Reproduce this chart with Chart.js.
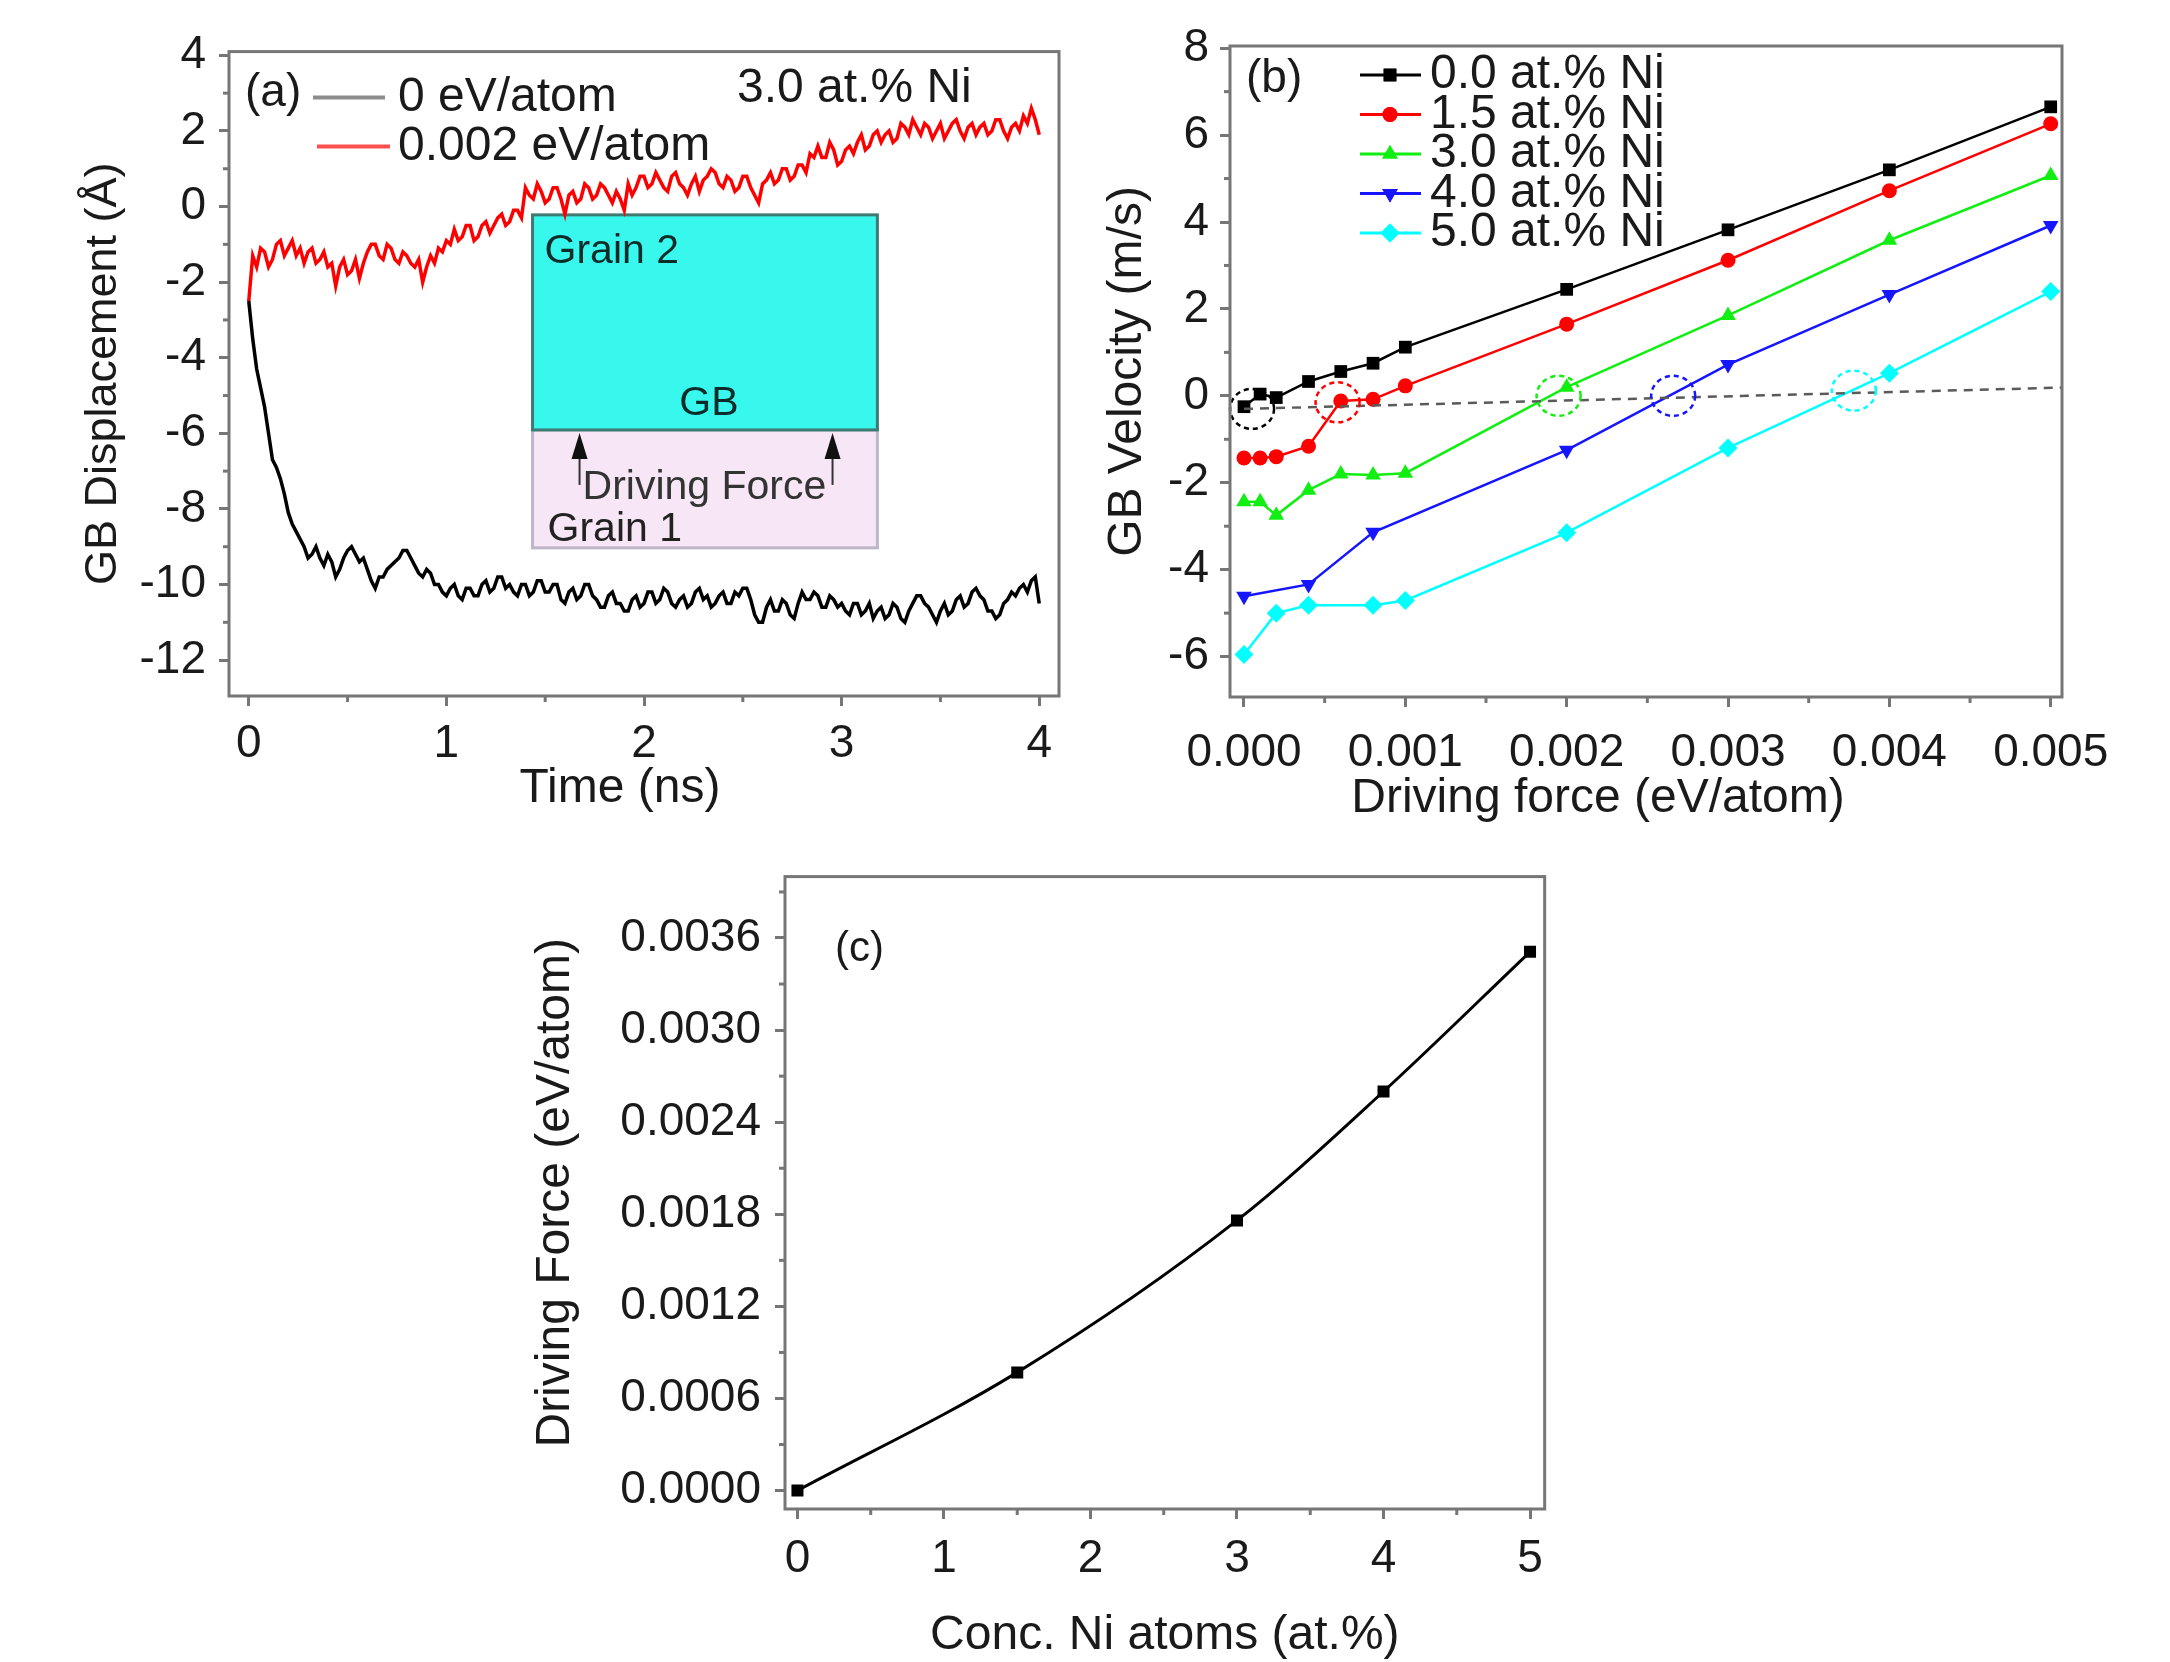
<!DOCTYPE html>
<html>
<head>
<meta charset="utf-8">
<title>GB displacement and velocity</title>
<script src="https://cdn.jsdelivr.net/npm/chart.js@4.4.1/dist/chart.umd.min.js"></script>
<style>
  html, body { margin: 0; padding: 0; background: #fff; overflow: hidden; }
  body { width: 2170px; height: 1662px; position: relative; }
  .panel { position: absolute; }
</style>
</head>
<body>
<div class="panel" style="left:40px;top:11px;width:1029px;height:809px"><canvas id="chartA"></canvas></div>
<div class="panel" style="left:1090px;top:6px;width:1042px;height:824px"><canvas id="chartB"></canvas></div>
<div class="panel" style="left:500px;top:835px;width:1056px;height:825px"><canvas id="chartC"></canvas></div>
<script>
// (a) GB displacement vs time, sampled every 0.02 ns from 0 to 4 ns
const timeStep = 0.02
const dispNoForce = [
  -2.5, -3.5, -4.3, -4.8, -5.3, -6.0, -6.7, -6.9, -7.2, -7.6,
  -8.1, -8.4, -8.6, -8.8, -9.0, -9.3, -9.2, -9.0, -9.3, -9.5,
  -9.2, -9.4, -9.8, -9.6, -9.3, -9.1, -9.0, -9.2, -9.4, -9.3,
  -9.6, -9.9, -10.1, -9.8, -9.8, -9.6, -9.5, -9.4, -9.3, -9.1,
  -9.1, -9.3, -9.5, -9.7, -9.8, -9.6, -9.7, -10.0, -10.0, -10.2,
  -10.3, -10.1, -10.0, -10.3, -10.4, -10.1, -10.1, -10.3, -10.3, -10.0,
  -9.9, -10.2, -10.1, -9.8, -9.8, -10.1, -10.0, -10.2, -10.3, -10.0,
  -10.0, -10.3, -10.2, -9.9, -9.9, -10.2, -10.2, -10.0, -10.0, -10.4,
  -10.5, -10.2, -10.1, -10.4, -10.3, -10.0, -10.0, -10.3, -10.4, -10.6,
  -10.6, -10.3, -10.2, -10.5, -10.5, -10.7, -10.7, -10.4, -10.3, -10.6,
  -10.5, -10.2, -10.2, -10.5, -10.4, -10.1, -10.2, -10.5, -10.6, -10.4,
  -10.3, -10.6, -10.5, -10.2, -10.1, -10.4, -10.3, -10.6, -10.5, -10.3,
  -10.2, -10.5, -10.5, -10.2, -10.3, -10.1, -10.1, -10.4, -10.8, -11.0,
  -11.0, -10.6, -10.4, -10.7, -10.7, -10.4, -10.5, -10.8, -10.9, -10.5,
  -10.2, -10.4, -10.4, -10.2, -10.3, -10.6, -10.6, -10.3, -10.4, -10.6,
  -10.5, -10.7, -10.8, -10.5, -10.5, -10.8, -10.7, -10.5, -10.9, -10.7,
  -10.6, -10.9, -10.8, -10.5, -10.6, -10.9, -11.0, -10.7, -10.5, -10.3,
  -10.3, -10.5, -10.6, -10.8, -11.0, -10.7, -10.5, -10.8, -10.7, -10.4,
  -10.3, -10.6, -10.5, -10.2, -10.1, -10.3, -10.4, -10.7, -10.7, -10.9,
  -10.8, -10.5, -10.4, -10.2, -10.3, -10.1, -10.0, -10.2, -9.9, -9.8,
  -10.5
]
const dispForce002 = [
  -2.5, -1.3, -1.6, -1.1, -1.2, -1.6, -1.4, -1.0, -0.9, -1.3,
  -1.1, -0.9, -1.3, -1.1, -1.5, -1.2, -1.1, -1.5, -1.4, -1.2,
  -1.6, -1.5, -2.1, -1.6, -1.4, -1.8, -1.7, -1.4, -1.9, -1.5,
  -1.2, -1.0, -1.0, -1.3, -1.4, -1.0, -1.1, -1.4, -1.5, -1.2,
  -1.3, -1.5, -1.6, -1.4, -2.0, -1.6, -1.3, -1.5, -1.1, -1.2,
  -0.9, -1.0, -0.6, -0.9, -0.8, -0.5, -0.5, -0.9, -0.8, -0.5,
  -0.4, -0.7, -0.5, -0.3, -0.2, -0.5, -0.4, -0.1, -0.1, -0.3,
  0.5, 0.3, 0.2, 0.6, 0.4, 0.1, 0.2, 0.5, 0.5, 0.2,
  -0.2, 0.3, 0.4, 0.1, 0.2, 0.6, 0.5, 0.2, 0.3, 0.6,
  0.5, 0.3, 0.1, 0.4, 0.2, -0.1, 0.6, 0.3, 0.5, 0.8,
  0.8, 0.5, 0.6, 0.9, 0.7, 0.5, 0.4, 0.8, 0.9, 0.6,
  0.5, 0.3, 0.6, 0.8, 0.4, 0.7, 0.8, 1.0, 0.9, 0.6,
  0.5, 0.8, 0.7, 0.4, 0.5, 0.8, 0.8, 0.5, 0.3, 0.1,
  0.6, 0.7, 0.9, 0.6, 0.7, 1.0, 1.0, 0.7, 0.8, 1.1,
  1.1, 0.9, 1.4, 1.3, 1.6, 1.3, 1.3, 1.7, 1.5, 1.1,
  1.2, 1.5, 1.6, 1.4, 1.7, 1.9, 1.5, 1.6, 1.9, 2.0,
  1.7, 1.9, 2.0, 1.7, 1.8, 2.2, 2.1, 1.9, 2.3, 2.1,
  1.9, 2.2, 2.1, 1.8, 2.0, 2.2, 1.8, 2.0, 2.2, 2.3,
  2.0, 1.8, 2.1, 2.2, 1.9, 2.1, 2.2, 1.9, 2.0, 2.3,
  2.3, 2.0, 1.8, 2.1, 2.2, 2.0, 2.4, 2.2, 2.6, 2.3,
  1.9
]

// (b) GB velocity vs driving force
const forceAll = [0, 0.0001, 0.0002, 0.0004, 0.0006, 0.0008, 0.001, 0.002, 0.003, 0.004, 0.005]
const force40 = [0, 0.0004, 0.0008, 0.002, 0.003, 0.004, 0.005]
const force50 = [0, 0.0002, 0.0004, 0.0008, 0.001, 0.002, 0.003, 0.004, 0.005]
const vel00 = [-0.25, 0.04, -0.04, 0.33, 0.56, 0.75, 1.12, 2.45, 3.82, 5.2, 6.65]
const vel15 = [-1.43, -1.43, -1.4, -1.16, -0.12, -0.08, 0.23, 1.65, 3.12, 4.72, 6.26]
const vel30 = [-2.44, -2.44, -2.75, -2.17, -1.8, -1.82, -1.78, 0.2, 1.85, 3.58, 5.07]
const vel40 = [-4.61, -4.34, -3.14, -1.25, 0.72, 2.33, 3.92]
const vel50 = [-5.95, -5.0, -4.82, -4.82, -4.71, -3.15, -1.2, 0.52, 2.4]
const zeroLineX = [0, 0.00507]
const zeroLineY = [-0.3, 0.19]
// dashed circles where each curve crosses zero velocity
const crossX = [0.00005, 0.00058, 0.00195, 0.00266, 0.00378]
const crossY = [-0.3, -0.15, 0.0, 0.0, 0.12]

// (c) critical driving force vs Ni concentration
const concNi = [0, 1.5, 3, 4, 5]
const critForce = [0.0, 0.00077, 0.00176, 0.0026, 0.00351]

Chart.defaults.font.family = "'Liberation Sans', Arial, sans-serif"
Chart.defaults.color = '#1a1a1a'
Chart.defaults.animation = false

const AXIS_GREY = '#767676'
const TEXT = '#1a1a1a'
const TICK_FONT = { size: 46 }
const TITLE_FONT = { size: 48, lineHeight: 1 }
const pairs = (xs, ys) => xs.map((x, i) => ({ x, y: ys[i] }))

function axis(o) {
  return {
    type: 'linear',
    min: o.min,
    max: o.max,
    border: { display: false },
    grid: { drawOnChartArea: false, drawTicks: true, tickLength: 10, tickColor: AXIS_GREY, tickWidth: 3 },
    ticks: {
      stepSize: o.step, includeBounds: false, autoSkip: false, maxRotation: 0,
      font: TICK_FONT, padding: o.pad, callback: o.fmt,
    },
    title: { display: true, text: o.title, font: o.titleFont || TITLE_FONT, padding: o.titlePad },
    afterFit: s => { if (s.isHorizontal()) s.height = o.size; else s.width = o.size },
  }
}

// box round the plot area plus the short minor ticks
const frame = {
  id: 'frame',
  afterDraw(chart, args, opts) {
    const { ctx, chartArea: a, scales } = chart
    ctx.save()
    ctx.strokeStyle = AXIS_GREY
    ctx.lineWidth = 3
    ctx.strokeRect(a.left, a.top, a.right - a.left, a.bottom - a.top)
    for (const [id, step] of Object.entries(opts.minor || {})) {
      const s = scales[id]
      for (let i = Math.ceil(s.min / step); i * step <= s.max; i++) {
        if (i % 2 === 0) continue
        const p = s.getPixelForValue(i * step)
        ctx.beginPath()
        if (s.isHorizontal()) { ctx.moveTo(p, a.bottom); ctx.lineTo(p, a.bottom + 6) }
        else { ctx.moveTo(a.left, p); ctx.lineTo(a.left - 6, p) }
        ctx.stroke()
      }
    }
    ctx.restore()
  }
}
Chart.register(frame)

function label(ctx, text, x, y, size, color, align) {
  ctx.font = size + "px 'Liberation Sans', Arial, sans-serif"
  ctx.fillStyle = color || TEXT
  ctx.textAlign = align || 'left'
  ctx.textBaseline = 'middle'
  ctx.fillText(text, x, y)
}

const common = pad => ({
  responsive: true,
  maintainAspectRatio: false,
  events: [],
  layout: { padding: { top: 40, right: pad, left: 0, bottom: 0 } },
})

// ---------- (a) ----------
const insetBox = { left: 1.436, right: 3.181, top: -0.22, gb: -5.91, bottom: -9.03 }

const insetA = {
  id: 'insetA',
  beforeDatasetsDraw(chart) {
    const { ctx, scales: { x, y } } = chart
    const x0 = x.getPixelForValue(insetBox.left), x1 = x.getPixelForValue(insetBox.right)
    const yT = y.getPixelForValue(insetBox.top), yG = y.getPixelForValue(insetBox.gb)
    const yB = y.getPixelForValue(insetBox.bottom)
    ctx.save()
    ctx.lineWidth = 3
    ctx.fillStyle = '#f7e6f6'
    ctx.fillRect(x0, yG, x1 - x0, yB - yG)
    ctx.strokeStyle = '#bdb6c8'
    ctx.strokeRect(x0, yG, x1 - x0, yB - yG)
    ctx.fillStyle = '#38f8ee'
    ctx.fillRect(x0, yT, x1 - x0, yG - yT)
    ctx.strokeStyle = '#3d7b72'
    ctx.strokeRect(x0, yT, x1 - x0, yG - yT)

    label(ctx, 'Grain 2', x0 + 12, yT + 37, 41, '#0d2b29')
    label(ctx, 'GB', (x0 + x1) / 2 + 4, yG - 26, 41, '#0d2b29', 'center')
    label(ctx, 'Driving Force', x0 + 50, yG + 58, 41, '#333')
    label(ctx, 'Grain 1', x0 + 15, yG + 100, 41, '#222')

    for (const ax of [x0 + 47, x0 + 300]) {
      ctx.strokeStyle = '#333'
      ctx.lineWidth = 2
      ctx.beginPath()
      ctx.moveTo(ax, yG + 55)
      ctx.lineTo(ax, yG + 20)
      ctx.stroke()
      ctx.fillStyle = '#111'
      ctx.beginPath()
      ctx.moveTo(ax, yG + 3)
      ctx.lineTo(ax - 8, yG + 29)
      ctx.lineTo(ax + 8, yG + 29)
      ctx.closePath()
      ctx.fill()
    }
    ctx.restore()
  },
  afterDraw(chart) {
    const { ctx, chartArea: a } = chart
    ctx.save()
    label(ctx, '(a)', a.left + 16, a.top + 42, 46)
    ctx.lineWidth = 4
    ctx.strokeStyle = '#8c8c8c'
    ctx.beginPath(); ctx.moveTo(a.left + 84, a.top + 46); ctx.lineTo(a.left + 156, a.top + 46); ctx.stroke()
    label(ctx, '0 eV/atom', a.left + 169, a.top + 46, 48)
    ctx.strokeStyle = '#ff5050'
    ctx.beginPath(); ctx.moveTo(a.left + 88, a.top + 95); ctx.lineTo(a.left + 161, a.top + 95); ctx.stroke()
    label(ctx, '0.002 eV/atom', a.left + 169, a.top + 95, 48)
    label(ctx, '3.0 at.% Ni', a.left + 508, a.top + 37, 48)
    ctx.restore()
  }
}

new Chart(document.getElementById('chartA'), {
  type: 'line',
  data: {
    datasets: [
      { label: '0 eV/atom', data: dispNoForce.map((y, i) => ({ x: i * timeStep, y })), borderColor: '#000', borderWidth: 3.5, pointRadius: 0, tension: 0 },
      { label: '0.002 eV/atom', data: dispForce002.map((y, i) => ({ x: i * timeStep, y })), borderColor: '#ff0000', borderWidth: 3.5, pointRadius: 0, tension: 0 },
    ]
  },
  options: {
    ...common(10),
    plugins: { legend: { display: false }, tooltip: { enabled: false }, frame: { minor: { x: 0.5, y: 1 } } },
    scales: {
      x: axis({ min: -0.1, max: 4.1, step: 1, pad: 11, size: 124, title: 'Time (ns)\u2003', titlePad: { top: 0, bottom: 7 }, fmt: v => String(v) }),
      y: axis({ min: -12.95, max: 4.1, step: 2, pad: 13, size: 189, title: 'GB Displacement (Å)', titleFont: { size: 45, lineHeight: 1 }, titlePad: { top: 41, bottom: 0 }, fmt: v => String(v) }),
    }
  },
  plugins: [insetA]
})

// ---------- (b) ----------
const seriesB = [
  { label: '0.0 at.% Ni', xs: forceAll, ys: vel00, color: '#000000', style: 'rect', radius: 9, rot: 0 },
  { label: '1.5 at.% Ni', xs: forceAll, ys: vel15, color: '#ff0000', style: 'circle', radius: 7.5, rot: 0 },
  { label: '3.0 at.% Ni', xs: forceAll, ys: vel30, color: '#11ee11', style: 'triangle', radius: 9, rot: 0 },
  { label: '4.0 at.% Ni', xs: force40, ys: vel40, color: '#1515ff', style: 'triangle', radius: 9, rot: 180 },
  { label: '5.0 at.% Ni', xs: force50, ys: vel50, color: '#00ffff', style: 'rectRot', radius: 9.5, rot: 0 },
]

const decorB = {
  id: 'decorB',
  afterDatasetsDraw(chart) {
    const { ctx, scales: { x, y } } = chart
    ctx.save()
    ctx.lineWidth = 2.5
    ctx.setLineDash([5, 4])
    crossX.forEach((cx, i) => {
      ctx.strokeStyle = seriesB[i].color
      ctx.beginPath()
      ctx.ellipse(x.getPixelForValue(cx), y.getPixelForValue(crossY[i]), 22, 20, 0, 0, Math.PI * 2)
      ctx.stroke()
    })
    ctx.restore()
  },
  afterDraw(chart) {
    const { ctx, chartArea: a } = chart
    ctx.save()
    label(ctx, '(b)', a.left + 16, a.top + 33, 46)
    seriesB.forEach((s, i) => {
      const ry = a.top + 29 + i * 39.5
      ctx.strokeStyle = s.color
      ctx.lineWidth = 3
      ctx.beginPath(); ctx.moveTo(a.left + 130, ry); ctx.lineTo(a.left + 191, ry); ctx.stroke()
      ctx.fillStyle = s.color
      Chart.helpers.drawPoint(ctx, { pointStyle: s.style, radius: s.radius, rotation: s.rot, borderWidth: 0 }, a.left + 160, ry)
      ctx.fill()
      label(ctx, s.label, a.left + 200, ry, 48)
    })
    ctx.restore()
  }
}

new Chart(document.getElementById('chartB'), {
  type: 'line',
  data: {
    datasets: [
      {
        data: pairs(zeroLineX, zeroLineY), borderColor: '#5a5a5a', borderWidth: 2.5,
        borderDash: [9, 7], pointRadius: 0, tension: 0,
      },
      ...seriesB.map(s => ({
        label: s.label,
        data: pairs(s.xs, s.ys),
        borderColor: s.color,
        backgroundColor: s.color,
        borderWidth: 2.5,
        pointStyle: s.style,
        pointRotation: s.rot,
        pointRadius: s.radius,
        pointBorderWidth: 0,
        tension: 0,
      }))
    ]
  },
  options: {
    ...common(70),
    plugins: { legend: { display: false }, tooltip: { enabled: false }, frame: { minor: { x: 0.0005, y: 1 } } },
    scales: {
      x: axis({ min: -0.0000867, max: 0.00507, step: 0.001, pad: 19, size: 133, title: 'Driving force (eV/atom)\u2003\u2003', titlePad: { top: 0, bottom: 7 }, fmt: v => v.toFixed(3) }),
      y: axis({ min: -6.93, max: 8.05, step: 2, pad: 11, size: 140, title: 'GB Velocity (m/s)', titlePad: { top: 14, bottom: 0 }, fmt: v => String(v) }),
    }
  },
  plugins: [decorB]
})

// ---------- (c) ----------
const decorC = {
  id: 'decorC',
  afterDraw(chart) {
    const { ctx, chartArea: a } = chart
    ctx.save()
    label(ctx, '(c)', a.left + 50, a.top + 73, 42)
    ctx.restore()
  }
}

new Chart(document.getElementById('chartC'), {
  type: 'line',
  data: {
    datasets: [{
      data: pairs(concNi, critForce),
      borderColor: '#000', backgroundColor: '#000', borderWidth: 3,
      pointStyle: 'rect', pointRadius: 8.5, pointBorderWidth: 0,
      cubicInterpolationMode: 'monotone',
    }]
  },
  options: {
    ...common(10),
    plugins: { legend: { display: false }, tooltip: { enabled: false }, frame: { minor: { x: 0.5, y: 0.0003 } } },
    scales: {
      x: axis({ min: -0.085, max: 5.1, step: 1, pad: 13, size: 151, title: 'Conc. Ni atoms (at.%)', titlePad: { top: 0, bottom: 0 }, fmt: v => String(v) }),
      y: axis({ min: -0.00012, max: 0.004, step: 0.0006, pad: 14, size: 285, title: 'Driving Force (eV/atom)', titlePad: { top: 32, bottom: 0 }, fmt: v => v.toFixed(4) }),
    }
  },
  plugins: [decorC]
})
</script>
</body>
</html>
